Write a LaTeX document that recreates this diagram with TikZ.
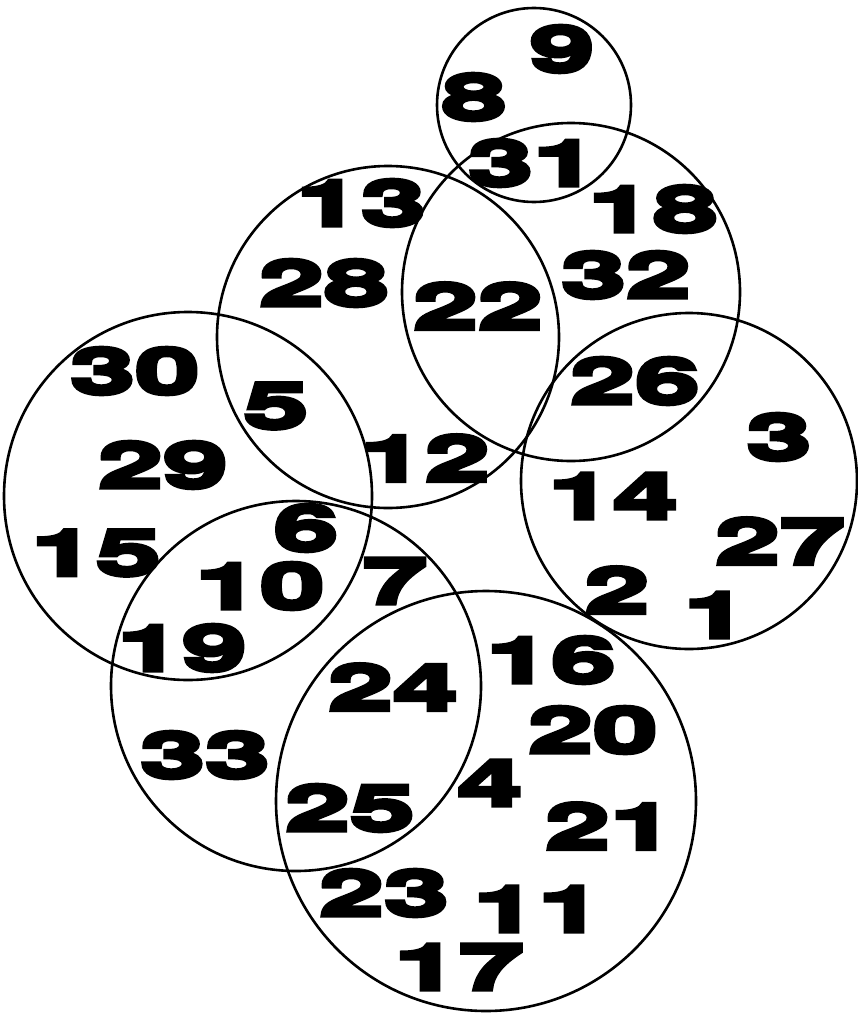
\documentclass[tikz,border=0pt]{standalone}
\usepackage{fontspec}
\newfontfamily\numfont{TeX Gyre Heros}[FakeStretch=1.85,FakeBold=7]

\tikzset{
  ring/.style={draw=black, line width=2.6pt},
  num/.style={inner sep=0pt, font=\numfont\bfseries\fontsize{63pt}{63pt}\selectfont}
}

\begin{document}
\begin{tikzpicture}[x=1pt, y=-1pt]
    \useasboundingbox (0,0) rectangle (858,1022);

    % Circles
    \draw[ring] (534,105) circle (97pt);
    \draw[ring] (571,292) circle (169pt);
    \draw[ring] (388,337) circle (171pt);
    \draw[ring] (188,496) circle (184pt);
    \draw[ring] (689,481) circle (168pt);
    \draw[ring] (296,686) circle (185pt);
    \draw[ring] (486,801) circle (210pt);

    % Top circle
    \node[num] (n9) at (562,49) {9};
    \node[num] (n8) at (474,97) {8};
    \node[num] (n31) at (533,163) {31};

    % Upper pair
    \node[num] (n18) at (653,209) {18};
    \node[num] (n13) at (361,203) {13};
    \node[num] (n28) at (324,283) {28};
    \node[num] (n22) at (478,306) {22};
    \node[num] (n32) at (626,275) {32};
    \node[num] (n12) at (425,458) {12};
    \node[num] (n5) at (276,406) {5};

    % Left circle
    \node[num] (n30) at (135,371) {30};
    \node[num] (n29) at (163,465) {29};
    \node[num] (n15) at (96,553) {15};
    \node[num] (n6) at (306,528) {6};
    \node[num] (n10) at (260,586) {10};
    \node[num] (n19) at (182,648) {19};

    % Right circle
    \node[num] (n26) at (635,381) {26};
    \node[num] (n3) at (779,437) {3};
    \node[num] (n14) at (613,496) {14};
    \node[num] (n27) at (780,541) {27};
    \node[num] (n2) at (617,590) {2};
    \node[num] (n1) at (716,615) {1};

    % Lower pair
    \node[num] (n7) at (395,581) {7};
    \node[num] (n24) at (393,687) {24};
    \node[num] (n33) at (205,755) {33};
    \node[num] (n25) at (350,808) {25};
    \node[num] (n16) at (551,660) {16};
    \node[num] (n20) at (593,730) {20};
    \node[num] (n4) at (490,783) {4};
    \node[num] (n21) at (610,826) {21};
    \node[num] (n23) at (384,893) {23};
    \node[num] (n11) at (538,909) {11};
    \node[num] (n17) at (459,967) {17};
\end{tikzpicture}
\end{document}
